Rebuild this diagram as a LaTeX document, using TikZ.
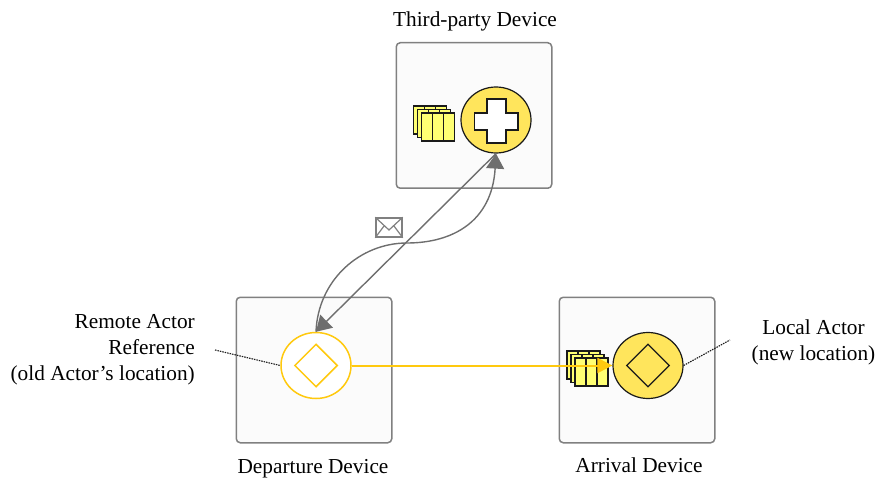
\documentclass[tikz,border=0pt]{standalone}
\usepackage{fontspec}
\setmainfont{Liberation Serif}
\usetikzlibrary{shapes.geometric,arrows.meta}
\definecolor{boxgray}{HTML}{808080}
\definecolor{boxfill}{HTML}{FBFBFB}
\definecolor{actorfill}{HTML}{FFE55C}
\definecolor{qfill}{HTML}{FFFF73}
\definecolor{refline}{HTML}{FFC90E}
\definecolor{msg}{HTML}{6E6E6E}
\definecolor{ink}{HTML}{1A1A1A}
\tikzset{
  x=1pt,y=-1pt,
  device/.style={draw=boxgray,fill=boxfill,line width=1.5pt,rounded corners=4pt,minimum width=155.5pt,minimum height=145.5pt,inner sep=0pt},
  actor/.style={ellipse,draw=ink,fill=actorfill,line width=1.2pt,minimum width=70pt,minimum height=66pt,inner sep=0pt},
  remote/.style={ellipse,draw=refline,fill=white,line width=1.5pt,minimum width=70pt,minimum height=66pt,inner sep=0pt},
  behave/.style={diamond,draw=ink,fill=actorfill,line width=1.2pt,minimum width=43pt,minimum height=43pt,inner sep=0pt,aspect=1},
  behaver/.style={diamond,draw=refline,fill=white,line width=1.5pt,minimum width=43pt,minimum height=43pt,inner sep=0pt,aspect=1},
  qbox/.style={draw=ink,fill=qfill,line width=1.2pt,minimum width=11pt,minimum height=28pt,inner sep=0pt},
  lbl/.style={font=\fontsize{21.3}{25.5}\selectfont,text=black,align=center,inner sep=0pt},
  lblr/.style={font=\fontsize{21.3}{26}\selectfont,text=black,align=right,inner sep=0pt},
  msgline/.style={draw=msg,line width=1.4pt},
  msghead/.style={-{Triangle[length=15pt,width=18pt]}},
  leader/.style={draw=ink,line width=1.1pt,dash pattern=on 1.5pt off 1pt},
}
\newcommand{\queue}[3]{% x of left of back stack, y of top of back stack, name
  \foreach \dx/\dy in {0/0,4/3.5,8/7}{
    \foreach \k in {0,1,2}{
      \node[qbox] (#3-\dx-\k) at ({#1+\dx+5.5+\k*11},{#2+\dy+14}) {};
    }
  }
}
\begin{document}
\begin{tikzpicture}
\useasboundingbox (0,0) rectangle (877,478);
\node[device] (devT) at (474,115.5) {};
\node[device] (devD) at (314,370) {};
\node[device] (devA) at (637,370) {};

\queue{413.5}{106}{qT}
\queue{567}{351}{qA}

\node[actor] (actT) at (496,120) {};
\fill[white,draw=ink,line width=1.2pt]
  (487,99) -- (506,99) -- (506,113) -- (518,113) -- (518,130) -- (506,130) -- (506,143) -- (487,143) -- (487,130) -- (474.5,130) -- (474.5,113) -- (487,113) -- cycle;
\node[remote] (actD) at (316,365.5) {};
\node[behaver] (diaD) at (316,365.5) {};
\node[actor] (actA) at (648,365.5) {};
\node[behave] (diaA) at (648,365.5) {};

\coordinate (midC) at (407,243);
\draw[msgline,msghead] (actT.south) -- (actD.north);
\draw[msgline,msghead]
  (actD.north) .. controls (318,280) and (360,243) .. (midC)
  .. controls (452,243) and (492,222) .. (actT.south);

\draw[refline,line width=2pt,-{Triangle[length=15pt,width=15pt]}] (actD.east) -- (actA.west);

\node[lbl,anchor=south] (tT) at (475,31) {Third-party Device};
\node[lbl,anchor=base] (tD) at (313,473.5) {Departure Device};
\node[lbl,anchor=base] (tA) at (639,472.5) {Arrival Device};
\node[lblr,anchor=base east] (tR) at (195,380.5) {Remote Actor\\Reference\\(old Actor’s location)};
\node[lbl,anchor=base] (tL) at (813.5,360) {Local Actor\\(new location)};

\coordinate (lR) at (215,350);
\coordinate (lL) at (730,340);
\draw[leader] (lR) -- (actD.west);
\draw[leader] (actA.east) -- (lL);

\node[draw=boxgray,fill=white,line width=1.5pt,minimum width=26pt,minimum height=19pt,inner sep=0pt] (env) at (389,227.5) {};
\draw[boxgray,line width=1.2pt] (env.north west) -- (389,230) -- (env.north east)
  (env.south west) -- (384,226) (env.south east) -- (394,226);
\end{tikzpicture}
\end{document}
